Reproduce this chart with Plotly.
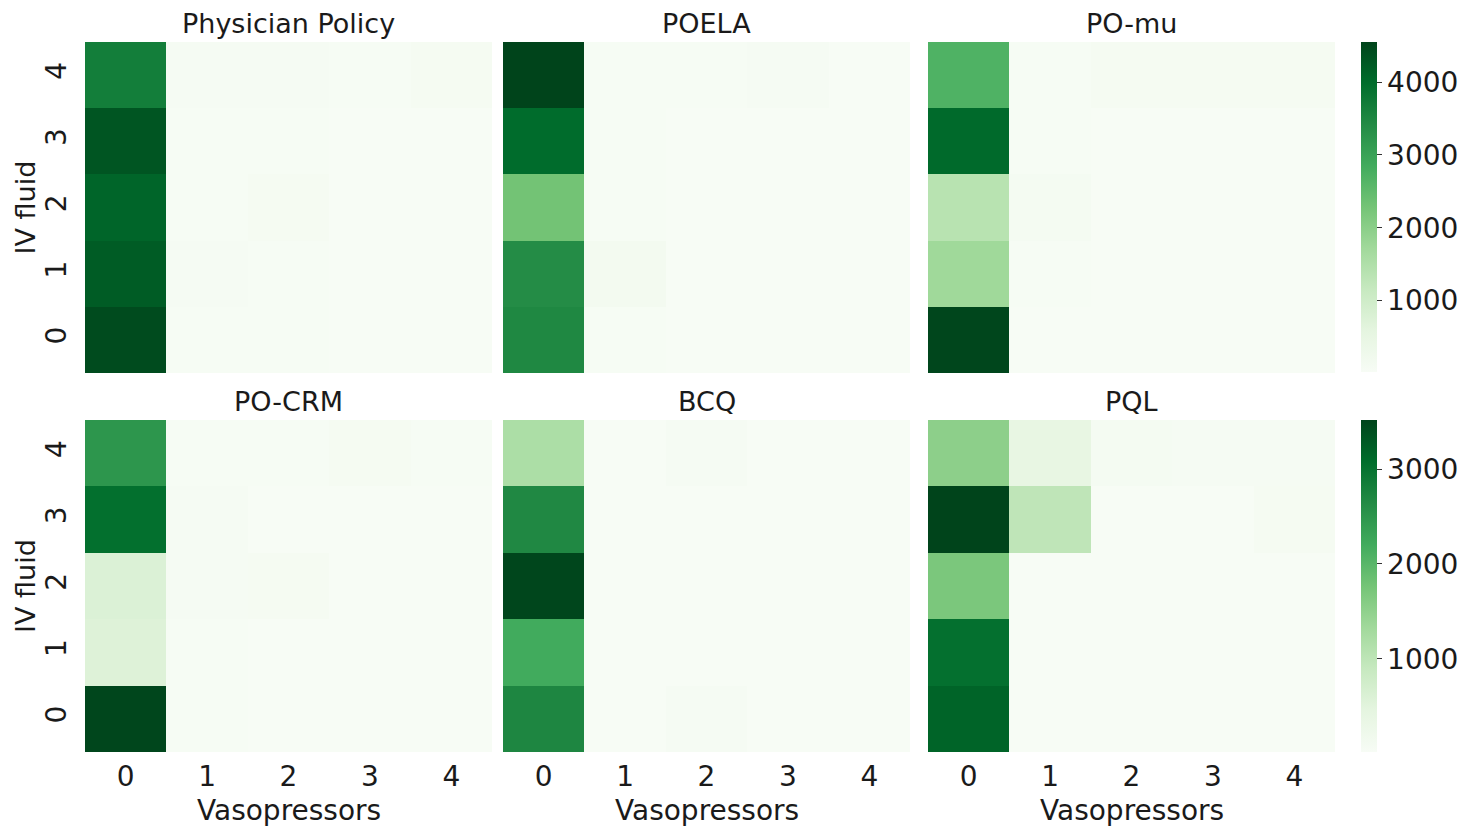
import plotly.graph_objects as go

# page offset (browser body margin) compensation
OFF = 8
W, H = 1475 - 2 * OFF, 835 - 2 * OFF

titles = ["Physician Policy", "POELA", "PO-mu", "PO-CRM", "BCQ", "PQL"]
vaso_ticks = ["0", "1", "2", "3", "4"]
fluid_ticks = ["0", "1", "2", "3", "4"]
vaso_vals = [0, 1, 2, 3, 4]
fluid_vals = [0, 1, 2, 3, 4]

# rows: IV fluid 0..4 ; columns: vasopressors 0..4
physician = [
    [4450, 60, 40, 30, 30],
    [4220, 70, 40, 30, 25],
    [4100, 60, 90, 30, 25],
    [4310, 60, 50, 30, 25],
    [3670, 70, 80, 50, 90],
]
poela = [
    [3480, 40, 30, 25, 20],
    [3400, 150, 30, 25, 20],
    [2300, 40, 30, 25, 20],
    [4000, 40, 30, 25, 20],
    [4550, 60, 60, 70, 30],
]
pomu = [
    [4520, 30, 25, 25, 20],
    [1730, 40, 30, 25, 20],
    [1380, 110, 30, 25, 20],
    [4030, 40, 30, 25, 20],
    [2700, 60, 90, 90, 90],
]
pocrm = [
    [3490, 40, 30, 25, 20],
    [560, 50, 30, 25, 20],
    [600, 60, 80, 25, 20],
    [3040, 70, 30, 25, 20],
    [2490, 50, 50, 80, 40],
]
bcq = [
    [2710, 30, 60, 25, 20],
    [2210, 30, 30, 25, 20],
    [3500, 30, 30, 25, 20],
    [2680, 30, 30, 25, 20],
    [1200, 30, 60, 25, 20],
]
pql = [
    [3170, 30, 25, 20, 20],
    [3030, 30, 25, 20, 20],
    [1700, 30, 25, 20, 20],
    [3516, 990, 30, 30, 80],
    [1530, 390, 90, 70, 70],
]
panels = [physician, poela, pomu, pocrm, bcq, pql]

top_cb_ticks = [1000, 2000, 3000, 4000]
bot_cb_ticks = [1000, 2000, 3000]

greens = [
    [0.0, "#f7fcf5"], [0.125, "#e5f5e0"], [0.25, "#c7e9c0"],
    [0.375, "#a1d99b"], [0.5, "#74c476"], [0.625, "#41ab5d"],
    [0.75, "#238b45"], [0.875, "#006d2c"], [1.0, "#00441b"],
]

FONT = "DejaVu Sans"
TXT = "#1a1a1a"
col_px = [(85, 492), (503, 910), (928, 1335)]
row_px = [(42, 373), (420, 752)]


def fx(p):
    return (p - OFF) / W


def fy(p):
    return 1 - (p - OFF) / H


fig = go.Figure()
annotations = []
for i, z in enumerate(panels):
    r, c = divmod(i, 3)
    n = i + 1
    xa = "x" if n == 1 else f"x{n}"
    ya = "y" if n == 1 else f"y{n}"
    fig.add_trace(go.Heatmap(
        z=z, x=vaso_vals, y=fluid_vals,
        coloraxis="coloraxis" if r == 0 else "coloraxis2",
        xaxis=xa, yaxis=ya, xgap=0, ygap=0,
    ))
    x0, x1 = col_px[c]
    y0, y1 = row_px[r]
    xkey = "xaxis" if n == 1 else f"xaxis{n}"
    ykey = "yaxis" if n == 1 else f"yaxis{n}"
    fig.layout[xkey] = dict(
        domain=[fx(x0), fx(x1)], anchor=ya, range=[-0.5, 4.5],
        tickvals=vaso_vals, ticktext=vaso_ticks, showticklabels=(r == 1),
        ticks="", showgrid=False, zeroline=False, showline=False,
        tickfont=dict(family=FONT, size=28, color=TXT),
        ticklabelstandoff=5,
    )
    fig.layout[ykey] = dict(
        domain=[fy(y1), fy(y0)], anchor=xa, range=[-0.5, 4.5],
        tickvals=fluid_vals, ticktext=fluid_ticks, showticklabels=(c == 0),
        ticks="", showgrid=False, zeroline=False, showline=False,
        tickangle=-90,
        tickfont=dict(family=FONT, size=28, color=TXT),
        ticklabelstandoff=12,
    )
    annotations.append(dict(
        text=titles[i], xref="paper", yref="paper",
        x=fx((x0 + x1) / 2), y=fy(y0), xanchor="center", yanchor="bottom",
        showarrow=False, yshift=1,
        font=dict(family=FONT, size=27, color=TXT),
    ))
    if r == 1:
        annotations.append(dict(
            text="Vasopressors", xref="paper", yref="paper",
            x=fx((x0 + x1) / 2), y=fy(810), xanchor="center", yanchor="middle",
            showarrow=False, font=dict(family=FONT, size=28, color=TXT),
        ))
    if c == 0:
        annotations.append(dict(
            text="IV fluid", xref="paper", yref="paper",
            x=fx(25), y=fy((y0 + y1) / 2), xanchor="center", yanchor="middle",
            textangle=-90, showarrow=False, borderpad=0,
            font=dict(family=FONT, size=27, color=TXT),
        ))


def cbar(y0, y1, ticks):
    return dict(
        x=fx(1361), xanchor="left", xpad=0, ypad=0, thickness=16,
        y=fy(y0), yanchor="top", len=(y1 - y0) / H, lenmode="fraction",
        tickvals=ticks, ticks="outside", ticklen=5, tickcolor="#333",
        tickfont=dict(family=FONT, size=28, color=TXT),
        outlinewidth=0,
    )


fig.update_layout(
    width=W, height=H,
    margin=dict(l=0, r=0, t=0, b=0),
    paper_bgcolor="white", plot_bgcolor="white",
    coloraxis=dict(colorscale=greens, colorbar=cbar(42, 372, top_cb_ticks)),
    coloraxis2=dict(colorscale=greens, colorbar=cbar(420, 752, bot_cb_ticks)),
    annotations=annotations,
    font=dict(family=FONT),
)

fig.write_html("out.html")
